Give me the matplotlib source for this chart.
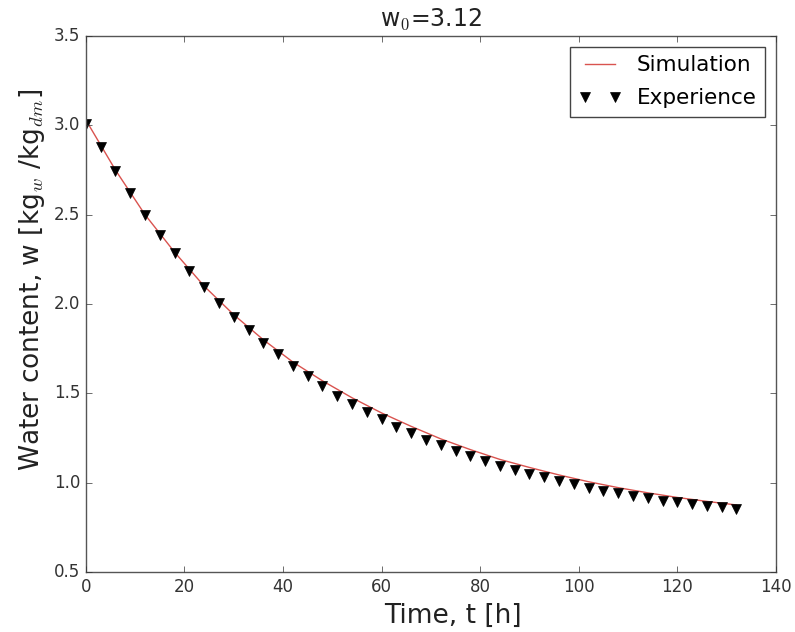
import numpy as np
import matplotlib
matplotlib.use("Agg")
import matplotlib.pyplot as plt

plt.style.use('classic')

# Experimental points (every 3 h)
t_exp = np.arange(0, 133, 3)
w_exp = [3.01, 2.88, 2.745, 2.62, 2.50, 2.386, 2.285, 2.184, 2.095, 2.005,
         1.927, 1.856, 1.78, 1.72, 1.655, 1.597, 1.54, 1.487, 1.44, 1.395,
         1.356, 1.313, 1.278, 1.239, 1.21, 1.177, 1.15, 1.12, 1.095, 1.07,
         1.048, 1.03, 1.01, 0.99, 0.97, 0.953, 0.94, 0.925, 0.914, 0.90,
         0.89, 0.88, 0.87, 0.864, 0.853]

# Simulation curve
t_sim = np.arange(0, 133, 6)
w_sim = [3.03, 2.75, 2.50, 2.29, 2.10, 1.94, 1.80, 1.675, 1.57, 1.475,
         1.39, 1.315, 1.245, 1.185, 1.13, 1.085, 1.043, 1.005, 0.972, 0.943,
         0.917, 0.895, 0.875]

fig = plt.figure(figsize=(7.95, 6.32), dpi=100, facecolor='white')
ax = fig.add_axes([0.108, 0.095, 0.868, 0.848])

ax.plot(t_sim, w_sim, color='#d9534f', lw=1, label='Simulation')
ax.plot(t_exp, w_exp, 'v', color='black', markersize=7, label='Experience')

ax.set_xlim(0, 140)
ax.set_ylim(0.5, 3.5)
ax.set_xticks(np.arange(0, 141, 20))
ax.set_yticks(np.arange(0.5, 3.51, 0.5))
ax.tick_params(labelsize=12, colors='#333333')
for s in ax.spines.values():
    s.set_color('#555555')

ax.set_xlabel('Time, t [h]', fontsize=19, color='#222222')
ax.set_ylabel('Water content, w [kg$_w$ /kg$_{dm}$]', fontsize=19,
              color='#222222')
ax.xaxis.set_label_coords(0.532, -0.057)
ax.yaxis.set_label_coords(-0.056, 0.545)
ax.set_title('w$_0$=3.12', fontsize=17, color='#222222', y=1.005)

leg = ax.legend(loc='upper right', numpoints=2, fontsize=15.5, fancybox=False,
                handlelength=2.0, handletextpad=0.7, labelspacing=0.6,
                borderaxespad=0.5)
leg.get_frame().set_edgecolor('#444444')

fig.savefig('out.png', dpi=100, facecolor='white')
